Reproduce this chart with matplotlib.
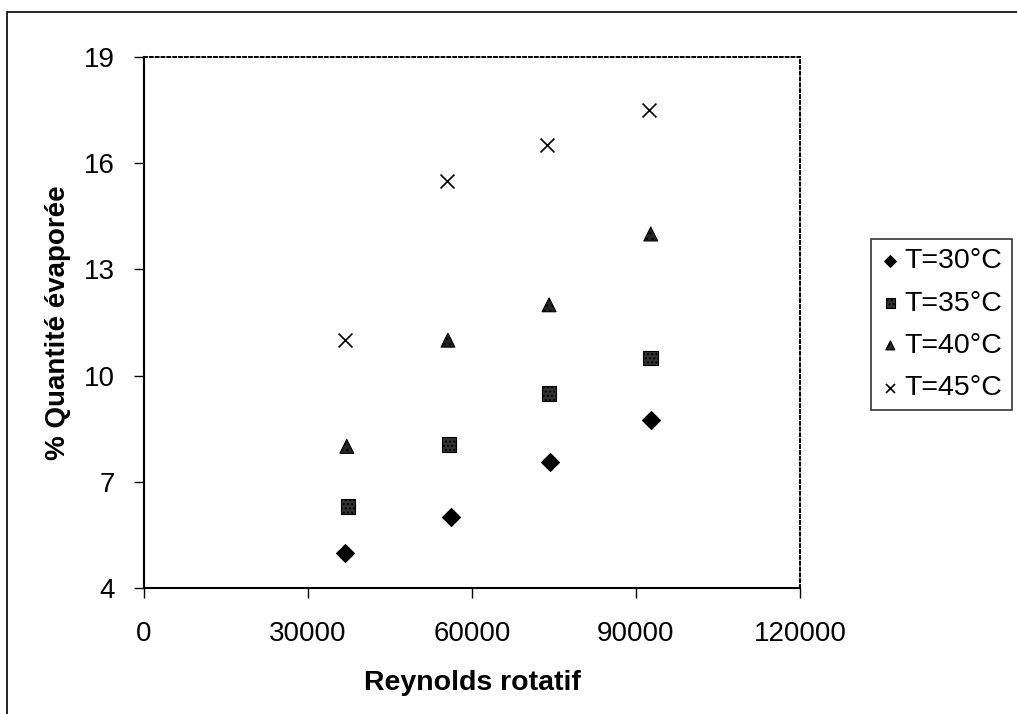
import matplotlib as mpl
mpl.use('Agg')
import matplotlib.pyplot as plt
from matplotlib.patches import Rectangle

plt.rcParams['font.family'] = ['Liberation Sans', 'DejaVu Sans']

# Reynolds rotatif (x) for each temperature
x_30 = [36800, 56200, 74300, 92700]
x_35 = [37300, 55800, 74100, 92700]
x_40 = [37100, 55600, 74100, 92700]
x_45 = [36800, 55400, 73700, 92300]

# % quantite evaporee
y_30 = [5.0, 6.0, 7.55, 8.75]
y_35 = [6.3, 8.05, 9.5, 10.5]
y_40 = [8.0, 11.0, 12.0, 14.0]
y_45 = [11.0, 15.5, 16.5, 17.5]

labels = ['T=30°C', 'T=35°C', 'T=40°C', 'T=45°C']
xticks = [0, 30000, 60000, 90000, 120000]
yticks = [4, 7, 10, 13, 16, 19]

fig = plt.figure(figsize=(10.17, 7.14), dpi=100)
ax = fig.add_axes([144/1017, 1-588/714, 656/1017, 531/714])

ax.scatter(x_30, y_30, marker='D', s=80, color='black', label=labels[0])
ax.scatter(x_35, y_35, marker='s', s=110, color='#333333', edgecolors='black',
           hatch='....', linewidths=0.8, label=labels[1])
ax.scatter(x_40, y_40, marker='^', s=100, color='#262626', edgecolors='black',
           hatch='...', linewidths=0.8, label=labels[2])
ax.scatter(x_45, y_45, marker='x', s=100, color='black', linewidths=1.2, label=labels[3])

ax.set_xlim(0, 120000)
ax.set_ylim(4, 19)
ax.set_xticks(xticks)
ax.set_yticks(yticks)
ax.tick_params(labelsize=20, direction='out', length=7, width=1)
ax.tick_params(axis='y', pad=14)
ax.tick_params(axis='x', pad=17)

for side in ['top', 'right']:
    ax.spines[side].set_linestyle((0, (1.5, 1.5)))
    ax.spines[side].set_linewidth(1.4)
for side in ['left', 'bottom']:
    ax.spines[side].set_linewidth(1.5)

ax.set_xlabel('Reynolds rotatif', fontsize=20.5, fontweight='bold', labelpad=16)
ax.set_ylabel('% Quantité évaporée', fontsize=20, fontweight='bold', labelpad=9)

leg = fig.legend(loc='upper left', bbox_to_anchor=(871/1017, 1-239/714),
                 fontsize=20.5, frameon=True, fancybox=False, handletextpad=0.15,
                 handlelength=0.7, borderpad=0.33, labelspacing=0.57,
                 markerscale=0.65, borderaxespad=0)
leg.get_frame().set_edgecolor('black')
leg.get_frame().set_linewidth(1.2)

# outer chart frame (only left/top visible in the scan)
fig.patches.append(Rectangle((7/1017, -0.05), 1.2, 1-12/714+0.05,
                             transform=fig.transFigure, fill=False,
                             edgecolor='black', linewidth=1.2))

plt.savefig('out.png', dpi=100)
plt.close()
